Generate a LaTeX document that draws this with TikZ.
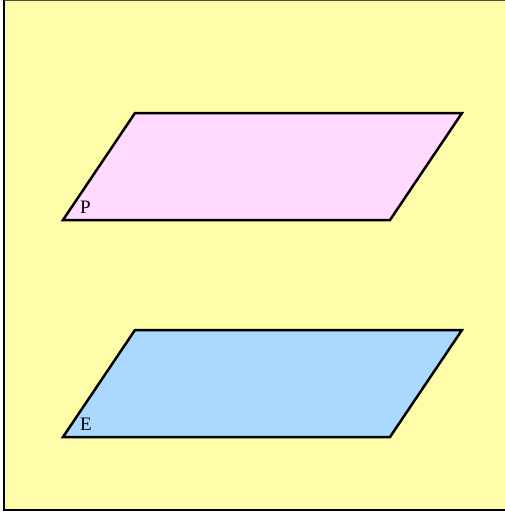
\documentclass[tikz,border=0pt]{standalone}
\usepackage{fontspec}
\setmainfont{Liberation Serif}
\definecolor{bgyellow}{RGB}{255,252,170}
\definecolor{planepink}{RGB}{255,217,255}
\definecolor{planeblue}{RGB}{170,216,255}
\tikzset{
  plane/.style={draw=black, line width=2.5pt, line join=miter},
  lbl/.style={inner sep=0pt, anchor=base west, font=\fontsize{19}{19}\selectfont}
}
\begin{document}
\begin{tikzpicture}[x=1pt,y=-1pt]
\useasboundingbox (0,0) rectangle (505,514);
\fill[white] (0,0) rectangle (505,514);
\fill[bgyellow] (4,0) rectangle (505,510);
\draw[line width=2pt] (4,0) -- (4,510) -- (505,510);
\draw[line width=1pt, black!70] (4,0.5) -- (505,0.5);
\filldraw[plane, fill=planepink] (63,220) -- (135,113) -- (462,113) -- (390,220) -- cycle;
\filldraw[plane, fill=planeblue] (63,437) -- (135,330) -- (462,330) -- (390,437) -- cycle;
\node[lbl] (P) at (80,213) {P};
\node[lbl] (E) at (80,430) {E};
\end{tikzpicture}
\end{document}
